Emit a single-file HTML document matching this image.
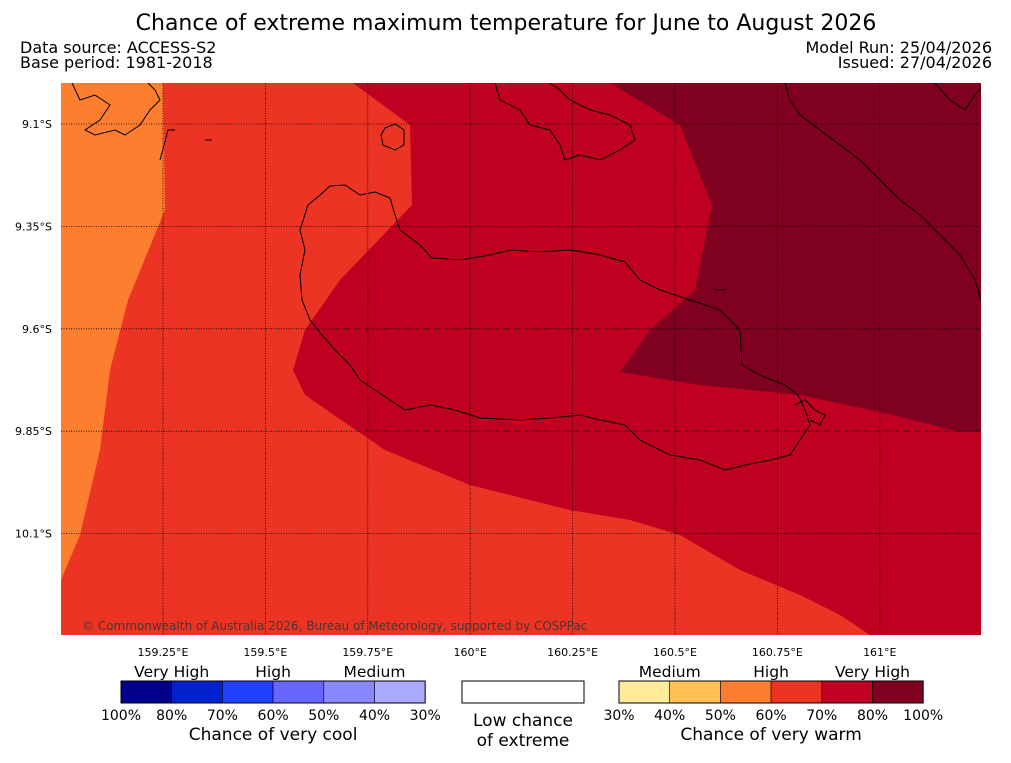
<!DOCTYPE html>
<html><head><meta charset="utf-8"><style>
body{margin:0;background:#fff;width:1011px;height:758px;overflow:hidden;font-family:"Liberation Sans","DejaVu Sans",sans-serif}
svg text{font-family:"DejaVu Sans","Liberation Sans",sans-serif}
</style></head><body>
<svg width="1011" height="758" viewBox="0 0 1011 758">
<text x="506" y="30" font-size="22" text-anchor="middle">Chance of extreme maximum temperature for June to August 2026</text>
<text x="20" y="53" font-size="16">Data source: ACCESS-S2</text>
<text x="20" y="68" font-size="16">Base period: 1981-2018</text>
<text x="992" y="53" font-size="16" text-anchor="end">Model Run: 25/04/2026</text>
<text x="992" y="68" font-size="16" text-anchor="end">Issued: 27/04/2026</text>
<defs><clipPath id="mc"><rect x="61" y="83" width="920" height="552"/></clipPath></defs>
<g clip-path="url(#mc)">
<rect x="61" y="83" width="920" height="552" fill="#bf0021"/>
<polygon fill="#ec3424" points="61,83 353,83 410,125 412,205 340,280 305,330 293,370 305,395 385,450 470,485 570,510 630,520 680,535 740,570 800,595 840,615 870,635 61,635"/>
<polygon fill="#fd7e2f" points="61,83 163,83 165,210 128,300 110,370 100,450 80,535 61,580"/>
<polygon fill="#800020" points="610,83 680,125 712,205 695,290 650,330 620,372 700,385 800,395 880,412 960,432 981,432 981,83"/>
<g fill="none" stroke="#000" stroke-width="1">
<path d="M330,186 L345,185 360,195 375,192 390,198 395,215 400,230 420,245 432,258 460,260 490,255 510,250 540,252 570,250 600,255 625,262 640,280 660,290 690,300 720,310 740,330 742,365 760,375 785,385 798,395 805,410 810,425 800,440 790,455 770,460 745,465 725,470 700,460 670,455 640,440 625,425 600,420 580,415 550,418 520,420 480,418 455,410 430,405 405,410 390,400 375,390 360,380 350,365 335,350 322,335 310,320 302,300 300,275 305,250 300,230 308,205 320,195 Z"/>
<path d="M385,128 L395,124 404,130 404,145 395,150 383,145 381,135 Z"/>
<path d="M72,83 L80,100 95,95 110,105 100,120 85,130 95,135 115,130 125,135 140,125 150,110 160,100 155,90 148,83"/>
<path d="M495,83 L500,100 520,110 530,125 550,130 560,145 565,160 580,155 600,160 620,150 635,140 630,125 610,115 590,110 570,100 560,90 550,83"/>
<path d="M785,83 L790,100 800,115 820,130 840,145 860,160 880,180 900,200 920,215 940,235 960,255 975,280 981,300"/>
<path d="M935,83 L950,100 965,110 975,95 981,88"/>
<path d="M160,160 L168,130 175,130"/>
<path d="M205,140 L212,140"/>
<path d="M795,405 L805,400 815,410 825,415 820,425 810,420"/>
<path d="M715,290 L725,290"/>
</g>
<g stroke="#000" stroke-width="0.8" stroke-dasharray="1,1.5" id="grat"></g>
<text x="82" y="630" font-size="12" fill="#333" opacity="0.85">© Commonwealth of Australia 2026, Bureau of Meteorology, supported by COSPPac</text>
</g>
<g id="latlabels" font-size="11" text-anchor="end"></g>
<g id="lonlabels" font-size="11" text-anchor="middle"></g>
<g id="legend"></g>
</svg>
<script>
const lonTicks=[159.25,159.5,159.75,160,160.25,160.5,160.75,161];
const lonLabels=["159.25°E","159.5°E","159.75°E","160°E","160.25°E","160.5°E","160.75°E","161°E"];
const latTicks=[9.1,9.35,9.6,9.85,10.1];
const latLabels=["9.1°S","9.35°S","9.6°S","9.85°S","10.1°S"];
const coolColors=["#00008c","#0022cc","#2040ff","#6666ff","#8888ff","#aaaaff"];
const coolTicks=["100%","80%","70%","60%","50%","40%","30%"];
const warmColors=["#ffeb99","#ffbf55","#fd7e2f","#ec3424","#bf0021","#800020"];
const warmTicks=["30%","40%","50%","60%","70%","80%","100%"];
const ns="http://www.w3.org/2000/svg";
const xs=v=>163+(v-159.25)*409.6, ys=v=>124+(v-9.1)*409.6;
function mk(t,a,p){const e=document.createElementNS(ns,t);for(const k in a)e.setAttribute(k,a[k]);p.appendChild(e);return e;}
const g=document.getElementById('grat'),ll=document.getElementById('latlabels'),lo=document.getElementById('lonlabels'),lg=document.getElementById('legend');
lonTicks.forEach((v,i)=>{const l=mk('line',{x1:xs(v),x2:xs(v),y1:83,y2:635},g);


const t=mk('text',{x:xs(v),y:656},lo);t.textContent=lonLabels[i];

});
latTicks.forEach((v,i)=>{const l=mk('line',{x1:61,x2:981,y1:ys(v),y2:ys(v)},g);


const t=mk('text',{x:52,y:ys(v)+4},ll);t.textContent=latLabels[i];

});
function bar(x0,colors,ticks,heads,title,nm){const w=50.7;
colors.forEach((c,i)=>{const r=mk('rect',{x:x0+i*w,y:681,width:w,height:22,fill:c,stroke:'#000','stroke-width':0.6},lg);

});
mk('rect',{x:x0,y:681,width:6*w,height:22,fill:'none',stroke:'#000'},lg);
ticks.forEach((s,i)=>{const t=mk('text',{x:x0+i*w,y:720,'font-size':14,'text-anchor':'middle'},lg);t.textContent=s;

});
heads.forEach((s,i)=>{const t=mk('text',{x:x0+w+i*2*w,y:677,'font-size':15.5,'text-anchor':'middle'},lg);t.textContent=s;

});
const t=mk('text',{x:x0+3*w,y:740,'font-size':17,'text-anchor':'middle'},lg);t.textContent=title;

}
bar(121,coolColors,coolTicks,["Very High","High","Medium"],"Chance of very cool","cool-colorbar");
bar(619,warmColors,warmTicks,["Medium","High","Very High"],"Chance of very warm","warm-colorbar");
const wb=mk('rect',{x:462,y:681,width:122,height:22,fill:'#fff',stroke:'#000'},lg);


[["Low chance",726],["of extreme",746]].forEach(a=>{const t=mk('text',{x:523,y:a[1],'font-size':17,'text-anchor':'middle'},lg);t.textContent=a[0];

});
</script>
</body></html>
